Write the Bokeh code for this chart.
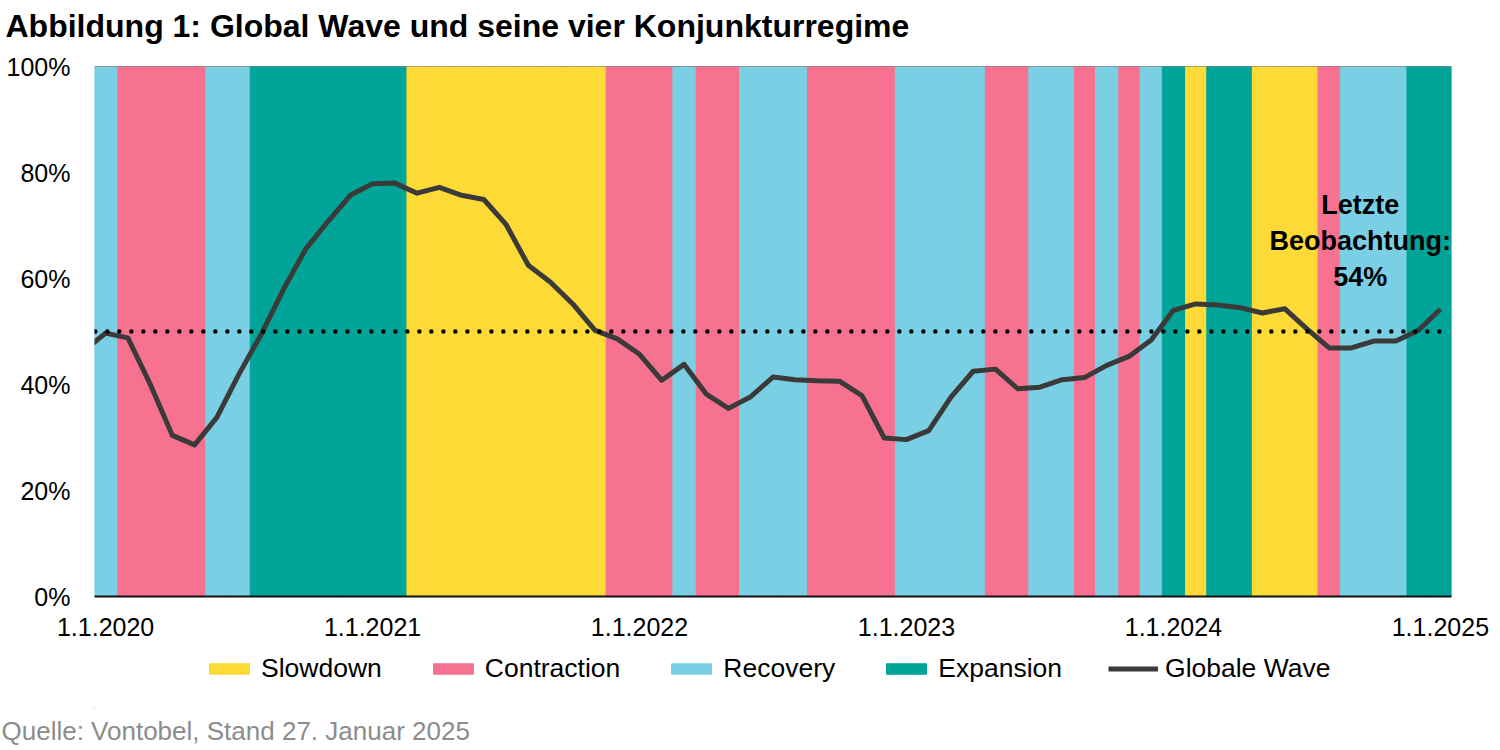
import pandas as pd
from bokeh.plotting import figure
from bokeh.layouts import column
from bokeh.models import (Range1d, FixedTicker, PrintfTickFormatter, Span, Label,
                          Legend, LegendItem, Title, ColumnDataSource)
from bokeh.embed import file_html
from bokeh.resources import INLINE

# ---------------- data ----------------
# regime per month, Jan 2020 .. Jan 2025 (S=Slowdown, C=Contraction, R=Recovery, E=Expansion)
regime_2020 = ["R", "C", "C", "C", "C", "R", "R", "E", "E", "E", "E", "E"]
regime_2021 = ["E", "E", "S", "S", "S", "S", "S", "S", "S", "S", "S", "C"]
regime_2022 = ["C", "C", "R", "C", "C", "R", "R", "R", "C", "C", "C", "C"]
regime_2023 = ["R", "R", "R", "R", "C", "C", "R", "R", "C", "R", "C", "R"]
regime_2024 = ["E", "S", "E", "E", "S", "S", "S", "C", "R", "R", "R", "E"]
regime_2025 = ["E"]
regimes = regime_2020 + regime_2021 + regime_2022 + regime_2023 + regime_2024 + regime_2025

# Globale Wave (%), monthly Dec 2019 .. Jan 2025
wave_values = [46.3,
               49.7, 48.8, 40.1, 30.4, 28.6, 33.8, 42.0, 49.5, 58.0, 65.6, 70.8, 75.7,
               77.9, 78.0, 76.1, 77.2, 75.7, 74.9, 70.2, 62.5, 59.3, 55.2, 50.2, 48.6,
               45.7, 40.8, 43.8, 38.2, 35.5, 37.7, 41.4, 40.9, 40.7, 40.6, 37.9, 29.9,
               29.6, 31.3, 37.6, 42.5, 42.9, 39.2, 39.5, 40.9, 41.3, 43.6, 45.3, 48.4,
               54.0, 55.2, 55.0, 54.5, 53.5, 54.3, 50.5, 46.9, 46.9, 48.2, 48.2, 50.2,
               54.2]
threshold = 50

regime_labels = {"S": "Slowdown", "C": "Contraction", "R": "Recovery", "E": "Expansion"}
regime_order = ["S", "C", "R", "E"]
regime_colors = {"S": "#FDDA35", "C": "#F77191", "R": "#7ACFE4", "E": "#00A499"}
wave_color = "#3A3A38"

tick_labels = ["1.1.2020", "1.1.2021", "1.1.2022", "1.1.2023", "1.1.2024", "1.1.2025"]
y_ticks = [0, 20, 40, 60, 80, 100]

title_text = "Abbildung 1: Global Wave und seine vier Konjunkturregime"
source_text = "Quelle: Vontobel, Stand 27. Januar 2025"

months = pd.date_range("2020-01-01", "2025-01-01", freq="MS")
band_x = list(range(len(months)))
wave_x = list(range(-1, len(wave_values) - 1))
tick_pos = [i for i, m in enumerate(months) if m.month == 1]

FONT = "Liberation Sans"
W = 1500
BL, BR = 94, 49


def blank_figure(h, **kw):
    f = figure(width=W, height=h, x_range=Range1d(0, 1), y_range=Range1d(0, 1),
               x_axis_type=None, y_axis_type=None,
               min_border_left=BL, min_border_right=BR, **kw,
               output_backend="svg", toolbar_location=None)
    f.outline_line_color = None
    f.grid.visible = False
    return f


# ---------------- title strip ----------------
p_top = blank_figure(52, min_border_top=43, min_border_bottom=0)
p_top.title = Title(text=title_text, text_font=FONT, text_font_size="32px",
                    text_font_style="bold", text_color="black", align="left",
                    offset=-89, standoff=10)

# ---------------- main chart ----------------
p = figure(width=W, height=594,
           min_border_left=BL, min_border_right=BR, min_border_top=14, min_border_bottom=50,
           x_range=Range1d(-0.5, len(months) - 0.5), y_range=Range1d(0, 100),
           output_backend="svg", toolbar_location=None)
p.outline_line_color = None
p.xgrid.visible = False
p.ygrid.visible = False
p.background_fill_color = "white"

for k in regime_order:
    xs = [band_x[i] for i, c in enumerate(regimes) if c == k]
    src = ColumnDataSource(dict(x=xs, top=[100] * len(xs), bottom=[0] * len(xs)))
    p.vbar(x="x", top="top", bottom="bottom", width=1, source=src,
           fill_color=regime_colors[k], line_color=regime_colors[k], line_width=1)

p.add_layout(Span(location=100, dimension="width", line_color="#555555", line_width=1))

wave_src = ColumnDataSource(dict(x=wave_x, y=wave_values))
p.line(x="x", y="y", source=wave_src, line_color=wave_color, line_width=5, line_join="round")

thr_src = ColumnDataSource(dict(x=[-1, band_x[-1] + 0.2], y=[threshold, threshold]))
p.line(x="x", y="y", source=thr_src, line_color="black", line_width=4.5,
       line_dash="0 12", line_cap="round")

p.add_layout(Label(x=band_x[-1] - 3.6, y=67,
                   text="Letzte\nBeobachtung:\n%d%%" % round(wave_values[-1]),
                   text_align="center", text_baseline="middle", text_font=FONT,
                   text_font_size="27px", text_font_style="bold", text_color="black"))

xa = p.xaxis[0]
xa.ticker = FixedTicker(ticks=tick_pos)
xa.major_label_overrides = {t: l for t, l in zip(tick_pos, tick_labels)}
xa.major_tick_line_color = None
xa.minor_tick_line_color = None
xa.major_tick_out = 0
xa.axis_line_color = "#111111"
xa.axis_line_width = 2
xa.major_label_standoff = 21
xa.major_label_text_font = FONT
xa.major_label_text_font_size = "25px"
xa.major_label_text_color = "black"

ya = p.yaxis[0]
ya.ticker = FixedTicker(ticks=y_ticks)
ya.formatter = PrintfTickFormatter(format="%d%%")
ya.major_tick_line_color = None
ya.minor_tick_line_color = None
ya.major_tick_out = 0
ya.axis_line_color = None
ya.major_label_standoff = 24
ya.major_label_text_font = FONT
ya.major_label_text_font_size = "25px"
ya.major_label_text_color = "black"

# ---------------- legend + source strip ----------------
p_bot = blank_figure(104, min_border_top=0, min_border_bottom=0)
items = []
for k in regime_order:
    r = p_bot.vbar(x=[-5], top=[-5], bottom=[-6], width=1, fill_color=regime_colors[k],
                   line_color=regime_colors[k])
    items.append(LegendItem(label=regime_labels[k], renderers=[r]))
rl = p_bot.line(x=[-5, -4], y=[-5, -5], line_color=wave_color, line_width=5)
items.append(LegendItem(label="Globale Wave", renderers=[rl]))

legend = Legend(items=items, orientation="horizontal", location=(110, 24),
                glyph_width=50, glyph_height=13, label_standoff=7, spacing=46,
                label_height=30, label_text_font=FONT, label_text_font_size="26.5px",
                label_text_color="black", label_text_baseline="middle",
                border_line_color=None, background_fill_alpha=0, padding=0, margin=0)
p_bot.add_layout(legend, "center")

p_bot.add_layout(Title(text=source_text, text_font=FONT, text_font_size="26px",
                       text_font_style="normal", text_color="#8C8C8C", align="left",
                       text_line_height=1.0, offset=-93, standoff=10), "below")

layout = column(p_top, p, p_bot, spacing=0)
open("out.html", "w").write(file_html(layout, INLINE))
